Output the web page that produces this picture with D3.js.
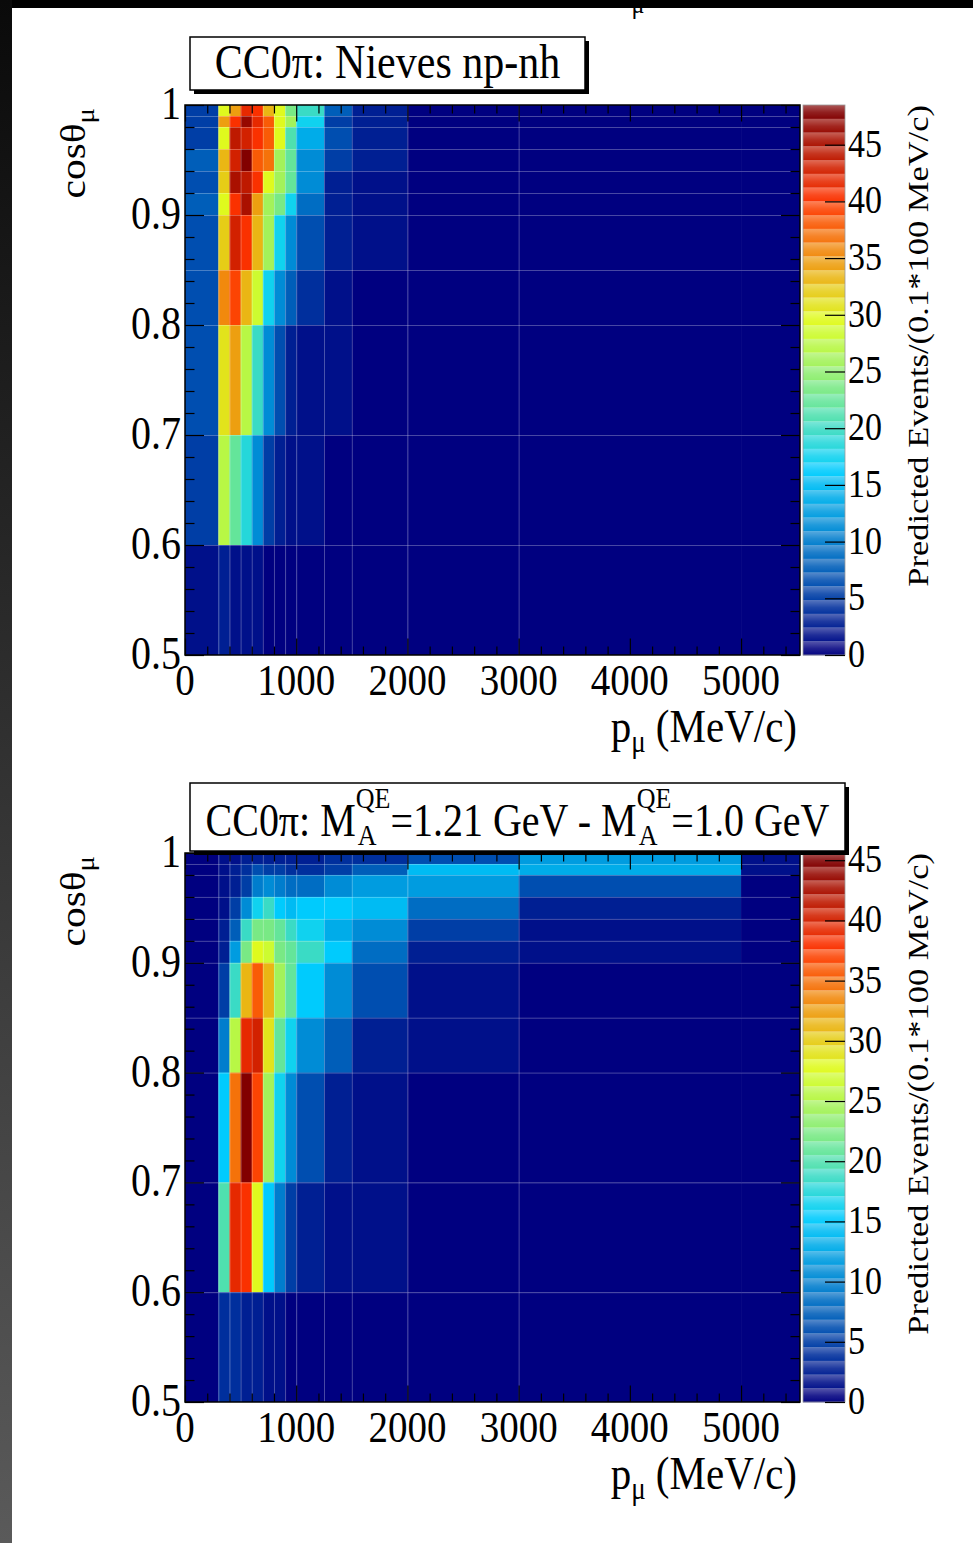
<!DOCTYPE html>
<html>
<head>
<meta charset="utf-8">
<script src="https://cdn.jsdelivr.net/npm/d3@7"></script>
<style>
  html, body { margin: 0; padding: 0; background: #000; }
  svg { display: block; }
</style>
</head>
<body>
<svg id="fig" width="973" height="1543"></svg>
<script>
// ---- binning (muon momentum in MeV/c, cos of muon angle) ----
const pEdges = [0, 300, 400, 500, 600, 700, 800, 900, 1000, 1250, 1500, 2000, 3000, 5000, 30000];
const cosEdges = [1.0, 0.99, 0.98, 0.96, 0.94, 0.92, 0.90, 0.85, 0.80, 0.70, 0.60, 0.50];

// ---- axis ticks ----
const pTicks = [0, 1000, 2000, 3000, 4000, 5000];
const pTickLabels = ["0", "1000", "2000", "3000", "4000", "5000"];
const cosTicks = [0.5, 0.6, 0.7, 0.8, 0.9, 1.0];
const cosTickLabels = ["0.5", "0.6", "0.7", "0.8", "0.9", "1"];
const zTicks = [0, 5, 10, 15, 20, 25, 30, 35, 40, 45];

// ---- predicted events, rows from cos=1 downwards, columns follow pEdges ----
const nievesValues = [
  [5.0, 30.0, 34.5, 42.5, 41.0, 33.0, 29.5, 23.5, 20.0, 7.5, 2.5, 0.4, 0.3, 0.2],
  [5.0, 35.0, 41.0, 47.0, 42.0, 38.0, 30.0, 26.0, 17.0, 5.0, 2.0, 0.4, 0.3, 0.2],
  [5.5, 30.0, 45.0, 43.0, 41.0, 38.0, 30.0, 21.5, 14.0, 6.0, 2.0, 0.4, 0.3, 0.2],
  [7.5, 33.0, 43.0, 48.5, 38.0, 37.0, 25.5, 23.0, 11.5, 4.5, 2.0, 0.4, 0.2, 0.1],
  [6.0, 32.0, 46.0, 45.0, 41.0, 30.0, 26.0, 23.0, 11.5, 3.0, 1.5, 0.3, 0.2, 0.1],
  [7.0, 29.5, 40.5, 46.0, 34.5, 26.0, 24.0, 17.0, 9.0, 3.0, 1.5, 0.3, 0.2, 0.1],
  [6.0, 32.0, 43.5, 40.5, 33.0, 26.0, 17.0, 11.5, 6.0, 2.5, 1.0, 0.3, 0.1, 0.0],
  [6.5, 35.5, 40.0, 33.5, 28.0, 18.0, 11.5, 7.5, 3.5, 1.5, 0.5, 0.2, 0.1, 0.0],
  [6.0, 30.5, 34.5, 27.0, 20.0, 11.5, 6.0, 3.0, 1.8, 0.7, 0.3, 0.1, 0.0, 0.0],
  [5.5, 27.0, 23.0, 18.5, 11.0, 4.5, 2.5, 1.5, 0.7, 0.3, 0.1, 0.0, 0.0, 0.0],
  [0.8, 2.0, 1.5, 1.2, 0.8, 0.5, 0.3, 0.2, 0.1, 0.0, 0.0, 0.0, 0.0, 0.0]
];
const maDiffValues = [
  [0.3, 0.8, 1.3, 2.0, 2.8, 2.8, 2.3, 2.2, 2.7, 3.2, 3.5, 6.3, 11.8, 1.5],
  [0.4, 1.0, 1.8, 4.0, 5.5, 5.0, 4.2, 4.0, 4.0, 4.5, 6.5, 14.0, 13.0, 0.8],
  [0.4, 1.3, 2.5, 5.0, 9.5, 10.0, 9.0, 8.5, 8.5, 10.5, 12.0, 12.0, 5.5, 0.5],
  [0.4, 1.5, 5.0, 11.0, 16.0, 18.5, 15.5, 14.0, 15.0, 15.0, 14.0, 8.0, 2.0, 0.3],
  [0.4, 2.0, 7.5, 18.5, 22.5, 22.5, 21.5, 18.5, 16.5, 13.0, 11.0, 4.5, 1.3, 0.3],
  [0.4, 2.5, 12.0, 22.5, 28.0, 27.0, 22.5, 21.0, 19.0, 15.0, 8.0, 2.7, 0.7, 0.2],
  [0.4, 5.0, 19.0, 31.5, 36.5, 31.5, 24.5, 21.0, 15.5, 10.5, 5.5, 1.3, 0.4, 0.1],
  [0.4, 9.5, 26.0, 40.0, 41.5, 29.5, 21.5, 16.0, 11.0, 7.5, 2.7, 0.8, 0.2, 0.0],
  [0.5, 15.5, 35.0, 45.6, 37.0, 24.5, 16.0, 10.5, 5.5, 2.7, 1.3, 0.4, 0.1, 0.0],
  [0.5, 19.5, 39.5, 39.0, 27.5, 15.5, 9.0, 4.5, 2.2, 1.2, 0.6, 0.2, 0.0, 0.0],
  [0.4, 3.5, 4.0, 2.5, 1.8, 1.2, 0.8, 0.5, 0.3, 0.0, 0.0, 0.0, 0.0, 0.0]
];

// ---- figure setup ----
const W = 973, H = 1543;
const SY = 1.15;                 // vertical stretch of all lettering
const FONT = "'Liberation Serif','Times New Roman',serif";
const N_CONTOURS = 40;
const P_MAX = 5530;
const X0 = 185, X1 = 800;        // plot frame
const CB0 = 803, CB1 = 845;      // colour bar

const svg = d3.select("#fig");

// colour table (navy -> cyan -> yellow -> red -> dark red)
const palette = d3.scaleLinear()
  .domain([0, 0.34, 0.61, 0.84, 1])
  .range(["rgb(0,0,128)", "rgb(0,207,255)", "rgb(222,255,31)", "rgb(255,51,0)", "rgb(130,0,0)"])
  .interpolate(d3.interpolateRgb);
const levelColor = i => palette(i / (N_CONTOURS - 1));
function cellColor(v, zMax) {
  let i = Math.round(v / zMax * (N_CONTOURS - 1));
  i = Math.max(0, Math.min(N_CONTOURS - 1, i));
  return levelColor(i);
}

// text helpers
const measurer = svg.append("text").attr("font-family", FONT).attr("visibility", "hidden");
function textWidth(str, size) {
  measurer.attr("font-size", size).text(str);
  return measurer.node().getComputedTextLength();
}
function stretchedGroup(parent, x, y, rotate) {
  return parent.append("g")
    .attr("transform", `translate(${x},${y}) scale(1,${SY})` + (rotate ? " rotate(-90)" : ""));
}
function label(parent, x, y, str, size, anchor, rotate) {
  return stretchedGroup(parent, x, y, rotate).append("text")
    .attr("font-family", FONT).attr("font-size", size)
    .attr("text-anchor", anchor || "middle").attr("fill", "#000")
    .text(str);
}

// ---- page background ----
const defs = svg.append("defs");
const edgeGrad = defs.append("linearGradient").attr("id", "edgeGrad")
  .attr("x1", 0).attr("y1", 0).attr("x2", 0).attr("y2", 1);
edgeGrad.append("stop").attr("offset", "0%").attr("stop-color", "#0a0a0a");
edgeGrad.append("stop").attr("offset", "100%").attr("stop-color", "#5a5a5a");
svg.append("rect").attr("width", W).attr("height", H).attr("fill", "#000");
svg.append("rect").attr("x", 0).attr("y", 0).attr("width", 12).attr("height", H).attr("fill", "url(#edgeGrad)");
svg.append("rect").attr("x", 12).attr("y", 8).attr("width", W - 12).attr("height", H - 8).attr("fill", "#fff");

// subscript of the axis title belonging to the panel above
const pageClip = defs.append("clipPath").attr("id", "pageClip");
pageClip.append("rect").attr("x", 12).attr("y", 8).attr("width", W - 12).attr("height", H - 8);
label(svg.append("g").attr("clip-path", "url(#pageClip)"), 638, 13, "μ", 24, "middle");

// colour-bar band shading
const bandGrad = defs.append("linearGradient").attr("id", "bandGrad")
  .attr("x1", 0).attr("y1", 0).attr("x2", 0).attr("y2", 1);
bandGrad.append("stop").attr("offset", "0%").attr("stop-color", "#fff").attr("stop-opacity", 0.34);
bandGrad.append("stop").attr("offset", "55%").attr("stop-color", "#fff").attr("stop-opacity", 0.12);
bandGrad.append("stop").attr("offset", "100%").attr("stop-color", "#fff").attr("stop-opacity", 0.02);

// ---- panels ----
const panels = [
  {
    id: "nieves", values: nievesValues, zMax: 48.5, top: 105, bottom: 655,
    box: [190, 37, 585, 90], titleSize: 42, titleBaseline: 78,
    title: [{ t: "CC0π: Nieves np-nh" }]
  },
  {
    id: "ma", values: maDiffValues, zMax: 45.6, top: 853, bottom: 1402,
    box: [190, 783, 845, 851], titleSize: 40, titleBaseline: 836,
    title: [
      { t: "CC0π: M" }, { sup: "QE", sub: "A" },
      { t: "=1.21 GeV - M" }, { sup: "QE", sub: "A" },
      { t: "=1.0 GeV" }
    ]
  }
];

panels.forEach(P => {
  const g = svg.append("g");
  const x = d3.scaleLinear().domain([0, P_MAX]).range([X0, X1]);
  const y = d3.scaleLinear().domain([0.5, 1.0]).range([P.bottom, P.top]);
  const z = d3.scaleLinear().domain([0, P.zMax]).range([P.bottom, P.top]);

  // clip to plot frame
  const clipId = "clip-" + P.id;
  defs.append("clipPath").attr("id", clipId).append("rect")
    .attr("x", X0).attr("y", P.top).attr("width", X1 - X0).attr("height", P.bottom - P.top);
  const plot = g.append("g").attr("clip-path", `url(#${clipId})`);

  // histogram cells
  const cells = [];
  P.values.forEach((row, i) => row.forEach((v, j) => {
    cells.push({ p0: pEdges[j], p1: pEdges[j + 1], c0: cosEdges[i + 1], c1: cosEdges[i], v });
  }));
  plot.selectAll("rect.cell").data(cells).join("rect").attr("class", "cell")
    .attr("x", d => x(d.p0))
    .attr("y", d => y(d.c1))
    .attr("width", d => x(Math.min(d.p1, P_MAX * 1.01)) - x(d.p0) + 0.4)
    .attr("height", d => y(d.c0) - y(d.c1) + 0.4)
    .attr("fill", d => cellColor(d.v, P.zMax));

  // faint bin boundaries
  const vEdges = pEdges.filter(p => p > 0 && p <= 3000);
  plot.selectAll("line.vedge").data(vEdges).join("line").attr("class", "vedge")
    .attr("x1", d => x(d) + 0.5).attr("x2", d => x(d) + 0.5)
    .attr("y1", P.top).attr("y2", P.bottom)
    .attr("stroke", "#fff").attr("stroke-opacity", 0.28).attr("stroke-width", 1);
  const hEdges = cosEdges.filter(c => c > 0.5 && c < 1.0);
  plot.selectAll("line.hedge").data(hEdges).join("line").attr("class", "hedge")
    .attr("x1", X0).attr("x2", X1)
    .attr("y1", d => y(d) + 0.5).attr("y2", d => y(d) + 0.5)
    .attr("stroke", "#fff").attr("stroke-opacity", 0.28).attr("stroke-width", 1);

  // inward ticks on all four sides
  const pMinor = d3.range(0, P_MAX, 200).filter(v => v % 1000 !== 0);
  const cosMinor = d3.range(0.52, 0.999, 0.02).filter(v => Math.abs(v * 10 - Math.round(v * 10)) > 1e-6);
  const tickStyle = sel => {
    sel.select(".domain").remove();
    sel.selectAll("line").attr("stroke", "#000").attr("stroke-width", 1.2);
  };
  g.append("g").attr("transform", `translate(0,${P.bottom})`)
    .call(d3.axisBottom(x).tickValues(pTicks).tickSize(-16.5).tickSizeOuter(0).tickFormat("")).call(tickStyle);
  g.append("g").attr("transform", `translate(0,${P.bottom})`)
    .call(d3.axisBottom(x).tickValues(pMinor).tickSize(-8.5).tickSizeOuter(0).tickFormat("")).call(tickStyle);
  g.append("g").attr("transform", `translate(0,${P.top})`)
    .call(d3.axisTop(x).tickValues(pTicks).tickSize(-16.5).tickSizeOuter(0).tickFormat("")).call(tickStyle);
  g.append("g").attr("transform", `translate(0,${P.top})`)
    .call(d3.axisTop(x).tickValues(pMinor).tickSize(-8.5).tickSizeOuter(0).tickFormat("")).call(tickStyle);
  g.append("g").attr("transform", `translate(${X0},0)`)
    .call(d3.axisLeft(y).tickValues(cosTicks).tickSize(-19).tickSizeOuter(0).tickFormat("")).call(tickStyle);
  g.append("g").attr("transform", `translate(${X0},0)`)
    .call(d3.axisLeft(y).tickValues(cosMinor).tickSize(-9.5).tickSizeOuter(0).tickFormat("")).call(tickStyle);
  g.append("g").attr("transform", `translate(${X1},0)`)
    .call(d3.axisRight(y).tickValues(cosTicks).tickSize(-19).tickSizeOuter(0).tickFormat("")).call(tickStyle);
  g.append("g").attr("transform", `translate(${X1},0)`)
    .call(d3.axisRight(y).tickValues(cosMinor).tickSize(-9.5).tickSizeOuter(0).tickFormat("")).call(tickStyle);

  // frame
  g.append("rect").attr("x", X0).attr("y", P.top).attr("width", X1 - X0).attr("height", P.bottom - P.top)
    .attr("fill", "none").attr("stroke", "#000").attr("stroke-width", 1.5);

  // tick labels
  pTicks.forEach((v, k) => label(g, x(v), P.bottom + 40, pTickLabels[k], 39, "middle"));
  cosTicks.forEach((v, k) => label(g, 181, y(v) + 14, cosTickLabels[k], 40, "end"));

  // axis titles
  const xt = label(g, 797, P.bottom + 87, "", 41, "end");
  xt.append("tspan").text("p");
  xt.append("tspan").attr("font-size", 27).attr("dy", 9).text("μ");
  xt.append("tspan").attr("dy", -9).text(" (MeV/c)");

  const yt = label(g, 85, P.top + 3, "", 36, "end", true);
  yt.append("tspan").text("cosθ");
  yt.append("tspan").attr("font-size", 25).attr("dy", 9).text("μ");

  // colour bar
  const cb = g.append("g");
  const bands = d3.range(N_CONTOURS);
  const step = P.zMax / N_CONTOURS;
  cb.selectAll("rect.band").data(bands).join("rect").attr("class", "band")
    .attr("x", CB0).attr("width", CB1 - CB0)
    .attr("y", i => z((i + 1) * step))
    .attr("height", i => z(i * step) - z((i + 1) * step) + 0.3)
    .attr("fill", i => levelColor(i));
  cb.selectAll("rect.shade").data(bands).join("rect").attr("class", "shade")
    .attr("x", CB0).attr("width", CB1 - CB0)
    .attr("y", i => z((i + 1) * step))
    .attr("height", i => z(i * step) - z((i + 1) * step))
    .attr("fill", "url(#bandGrad)");
  cb.append("rect").attr("x", CB0).attr("y", P.top).attr("width", CB1 - CB0).attr("height", P.bottom - P.top)
    .attr("fill", "none").attr("stroke", "#9a9a9a").attr("stroke-width", 0.8);
  cb.append("g").attr("transform", `translate(${CB1},0)`)
    .call(d3.axisLeft(z).tickValues(zTicks).tickSize(20).tickSizeOuter(0).tickFormat("")).call(tickStyle);
  zTicks.forEach(v => label(cb, 848, z(v) + 12, String(v), 34, "start"));
  label(cb, 928, P.top, "Predicted Events/(0.1*100 MeV/c)", 30, "end", true);

  // title box with shadow
  const [bx0, by0, bx1, by1] = P.box;
  g.append("rect").attr("x", bx0 + 4).attr("y", by0 + 4).attr("width", bx1 - bx0).attr("height", by1 - by0)
    .attr("fill", "#000");
  g.append("rect").attr("x", bx0).attr("y", by0).attr("width", bx1 - bx0).attr("height", by1 - by0)
    .attr("fill", "#fff").attr("stroke", "#000").attr("stroke-width", 1.5);

  // title text laid out piece by piece (stacked super/subscripts)
  const scriptSize = Math.round(P.titleSize * 0.64);
  const pieces = P.title.map(s => s.t !== undefined
    ? { s, w: textWidth(s.t, P.titleSize) }
    : { s, w: Math.max(textWidth(s.sup, scriptSize), textWidth(s.sub, scriptSize)) });
  const total = d3.sum(pieces, d => d.w);
  let cx = (bx0 + bx1) / 2 - total / 2;
  const tg = stretchedGroup(g, 0, P.titleBaseline, false);
  pieces.forEach(({ s, w }) => {
    if (s.t !== undefined) {
      tg.append("text").attr("x", cx).attr("y", 0).attr("font-family", FONT)
        .attr("font-size", P.titleSize).attr("fill", "#000").text(s.t);
    } else {
      tg.append("text").attr("x", cx).attr("y", -24).attr("font-family", FONT)
        .attr("font-size", scriptSize).attr("fill", "#000").text(s.sup);
      tg.append("text").attr("x", cx + 2).attr("y", 8).attr("font-family", FONT)
        .attr("font-size", scriptSize).attr("fill", "#000").text(s.sub);
    }
    cx += w;
  });
});

measurer.remove();
</script>
</body>
</html>
